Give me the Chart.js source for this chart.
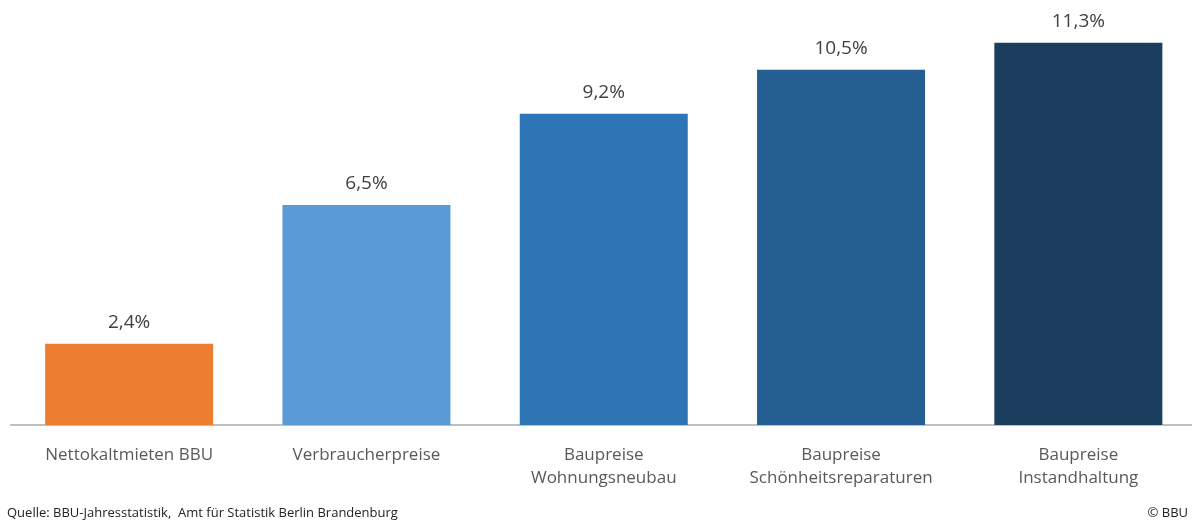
<!DOCTYPE html>
<html><head><meta charset="utf-8">
<script src="https://cdn.jsdelivr.net/npm/chart.js"></script>
<style>html,body{margin:0;padding:0;background:#fff;overflow:hidden;width:1192px;height:522px}
#wrap{position:relative;width:1197px;height:522px}</style>
</head><body><div id="wrap"><canvas id="c" width="1197" height="522"></canvas></div>
<script>
const categories = [["Nettokaltmieten BBU"],["Verbraucherpreise"],["Baupreise","Wohnungsneubau"],["Baupreise","Schönheitsreparaturen"],["Baupreise","Instandhaltung"]];
const values = [2.4, 6.5, 9.2, 10.5, 11.3];
const valueLabels = ["2,4%","6,5%","9,2%","10,5%","11,3%"];
const colors = ["#ED7D31","#5B9BD5","#2E75B6","#255E91","#1B3D5E"];
const sourceText = "Quelle: BBU-Jahresstatistik,  Amt für Statistik Berlin Brandenburg";
const copyText = "© BBU";
const FONT = "'Open Sans', sans-serif";

const labelPlugin = {
  id:'labels',
  afterDatasetsDraw(chart){
    const ctx = chart.ctx;
    const meta = chart.getDatasetMeta(0);
    ctx.save();
    ctx.fillStyle = '#404040';
    ctx.font = "19px " + FONT;
    ctx.textAlign = 'center';
    ctx.textBaseline = 'middle';
    meta.data.forEach((bar,i)=>{
      ctx.fillText(valueLabels[i], bar.x, bar.y - 21);
    });
    ctx.font = "13px " + FONT;
    ctx.fillStyle = '#222';
    ctx.textAlign = 'left';
    ctx.fillText(sourceText, 7, 513);
    ctx.textAlign = 'right';
    ctx.fillText(copyText, 1188, 513);
    ctx.restore();
  }
};

new Chart(document.getElementById('c'), {
  type:'bar',
  data:{labels:categories, datasets:[{data:values, backgroundColor:colors, barPercentage:0.708, categoryPercentage:1}]},
  options:{
    responsive:false, animation:false,
    layout:{padding:{left:10.5, right:0, top:19, bottom:0}},
    plugins:{legend:{display:false}, tooltip:{enabled:false}},
    scales:{
      y:{display:false, min:0, max:12},
      x:{
        grid:{display:false},
        border:{display:true, color:'#BFBFBF', width:2},
        ticks:{color:'#595959', font:{family:FONT, size:17, lineHeight:1.38}, padding:10, maxRotation:0, autoSkip:false},
        afterFit(s){ s.height = 97; }
      }
    }
  },
  plugins:[labelPlugin]
});
</script></body></html>
